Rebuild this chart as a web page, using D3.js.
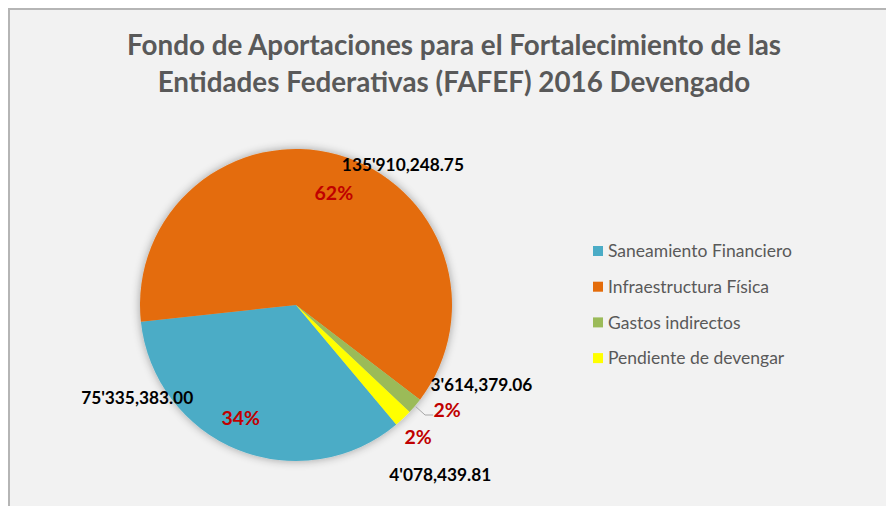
<!DOCTYPE html>
<html>
<head>
<meta charset="utf-8">
<script src="https://cdn.jsdelivr.net/npm/d3@7"></script>
<style>
  html, body { margin: 0; padding: 0; background: #ffffff; }
  svg { display: block; }
</style>
</head>
<body>
<svg id="chart" width="886" height="506"></svg>
<script>
// chart data
var categories = ["Saneamiento Financiero", "Infraestructura Física", "Gastos indirectos", "Pendiente de devengar"];
var values = [75335383.00, 135910248.75, 3614379.06, 4078439.81];
var valueLabels = ["75'335,383.00", "135'910,248.75", "3'614,379.06", "4'078,439.81"];
var percentLabels = ["34%", "62%", "2%", "2%"];
var colors = ["#4bacc6", "#e46c0a", "#9bbb59", "#ffff00"];
var titleLines = ["Fondo de Aportaciones para el Fortalecimiento de las", "Entidades Federativas (FAFEF) 2016 Devengado"];

// where the labels sit (polar: radius px, angle deg clockwise from top)
var valuePos = [[184, 239.7], [176, 37.4], [202, 113.4], [223, 139.7]];
var percentPos = [[126, 206], [118, 18.7], [184, 124.8], [180, 137.3]];

var width = 886, height = 506;
var cx = 296, cy = 305, radius = 156;
var firstSliceAngle = 140; // degrees

var svg = d3.select("#chart");

var defs = svg.append("defs");
var shadow = defs.append("filter").attr("id", "pieShadow")
  .attr("x", "-20%").attr("y", "-20%").attr("width", "140%").attr("height", "140%");
shadow.append("feGaussianBlur").attr("in", "SourceAlpha").attr("stdDeviation", 5).attr("result", "blur");
shadow.append("feComponentTransfer").attr("in", "blur").attr("result", "soft")
  .append("feFuncA").attr("type", "linear").attr("slope", 0.35);
var merge = shadow.append("feMerge");
merge.append("feMergeNode").attr("in", "soft");
merge.append("feMergeNode").attr("in", "SourceGraphic");

/* chart background and frame */
svg.append("rect")
  .attr("x", 9).attr("y", 9)
  .attr("width", width).attr("height", height)
  .attr("fill", "#f2f2f2")
  .attr("stroke", "#b5b5b5")
  .attr("stroke-width", 2);

/* title */
var title = svg.append("text")
  .attr("text-anchor", "middle")
  .attr("font-family", "Lato, 'Open Sans', sans-serif")
  .attr("font-weight", "bold")
  .attr("font-size", 27.8)
  .attr("fill", "#595959");
title.selectAll("tspan")
  .data(titleLines)
  .enter()
  .append("tspan")
  .attr("x", 454)
  .attr("y", (d, i) => 55 + i * 37)
  .text((d) => d);

/* pie */
var start = firstSliceAngle * Math.PI / 180;
var pie = d3.pie().sort(null).value((d) => d)
  .startAngle(start).endAngle(start + 2 * Math.PI);
var arcs = pie(values);
var arc = d3.arc().innerRadius(0).outerRadius(radius);

var g = svg.append("g").attr("transform", "translate(" + cx + "," + cy + ")");
g.append("g").attr("filter", "url(#pieShadow)")
  .selectAll("path")
  .data(arcs)
  .enter()
  .append("path")
  .attr("d", arc)
  .attr("fill", (d, i) => colors[i]);

var polar = (r, deg) => {
  var a = deg * Math.PI / 180;
  return [r * Math.sin(a), -r * Math.cos(a)];
};

/* leader line for the small green slice */
var gi = 2;
var mid = (arcs[gi].startAngle + arcs[gi].endAngle) / 2 * 180 / Math.PI;
var p0 = polar(radius + 1, mid);
var pl = polar(percentPos[gi][0], percentPos[gi][1]);
g.append("polyline")
  .attr("points", [p0, [pl[0] - 22, pl[1] + 5], [pl[0] - 14, pl[1] + 5]].map((p) => p.join(",")).join(" "))
  .attr("fill", "none")
  .attr("stroke", "#a6a6a6")
  .attr("stroke-width", 1);

/* data labels */
g.selectAll(".value-label")
  .data(valueLabels)
  .enter()
  .append("text")
  .attr("class", "value-label")
  .attr("x", (d, i) => polar(valuePos[i][0], valuePos[i][1])[0])
  .attr("y", (d, i) => polar(valuePos[i][0], valuePos[i][1])[1])
  .attr("dy", "0.35em")
  .attr("text-anchor", "middle")
  .attr("font-family", "Lato, sans-serif")
  .attr("font-weight", "bold")
  .attr("font-size", 17.3)
  .attr("fill", "#000000")
  .text((d) => d);

g.selectAll(".pct-label")
  .data(percentLabels)
  .enter()
  .append("text")
  .attr("class", "pct-label")
  .attr("x", (d, i) => polar(percentPos[i][0], percentPos[i][1])[0])
  .attr("y", (d, i) => polar(percentPos[i][0], percentPos[i][1])[1])
  .attr("dy", "0.35em")
  .attr("text-anchor", "middle")
  .attr("font-family", "Lato, sans-serif")
  .attr("font-weight", "bold")
  .attr("font-size", 19.5)
  .attr("fill", "#c00000")
  .text((d) => d);

/* legend */
var legend = svg.append("g").attr("transform", "translate(593,251)");
var item = legend.selectAll("g")
  .data(categories)
  .enter()
  .append("g")
  .attr("transform", (d, i) => "translate(0," + i * 35.7 + ")");
item.append("rect")
  .attr("x", 0).attr("y", -5)
  .attr("width", 10).attr("height", 10)
  .attr("fill", (d, i) => colors[i]);
item.append("text")
  .attr("x", 15)
  .attr("dy", "0.35em")
  .attr("font-family", "Lato, sans-serif")
  .attr("font-size", 17.5)
  .attr("fill", "#595959")
  .text((d) => d);
</script>
</body>
</html>
